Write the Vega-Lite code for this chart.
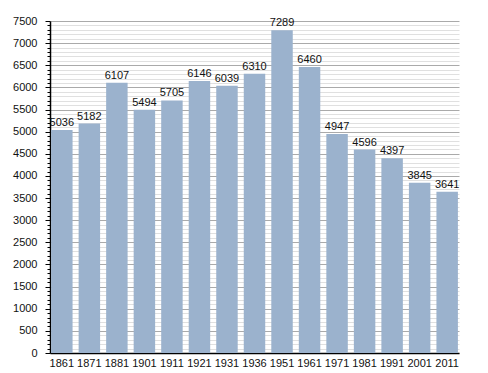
{
  "$schema": "https://vega.github.io/schema/vega-lite/v6.json",
  "width": 409,
  "height": 332,
  "autosize": "none",
  "padding": {"left": 50, "top": 21, "right": 29, "bottom": 20},
  "background": "white",
  "config": {"view": {"stroke": null}, "font": "Liberation Sans"},
  "data": {"values": [
    {"year": "1861", "pop": 5036},
    {"year": "1871", "pop": 5182},
    {"year": "1881", "pop": 6107},
    {"year": "1901", "pop": 5494},
    {"year": "1911", "pop": 5705},
    {"year": "1921", "pop": 6146},
    {"year": "1931", "pop": 6039},
    {"year": "1936", "pop": 6310},
    {"year": "1951", "pop": 7289},
    {"year": "1961", "pop": 6460},
    {"year": "1971", "pop": 4947},
    {"year": "1981", "pop": 4596},
    {"year": "1991", "pop": 4397},
    {"year": "2001", "pop": 3845},
    {"year": "2011", "pop": 3641}
  ]},
  "encoding": {
    "x": {"field": "year", "type": "ordinal", "sort": null,
      "scale": {"paddingInner": 0.22, "paddingOuter": 0.04},
      "axis": {"title": null, "labelAngle": 0, "ticks": false, "domainColor": "#000", "domainWidth": 1.5,
        "labelFontSize": 11, "labelColor": "#111", "labelPadding": 4, "grid": false}},
    "y": {"field": "pop", "type": "quantitative",
      "scale": {"domain": [0, 7500], "nice": false},
      "axis": {"title": null,
        "values": [0,100,200,300,400,500,600,700,800,900,1000,1100,1200,1300,1400,1500,1600,1700,1800,1900,2000,2100,2200,2300,2400,2500,2600,2700,2800,2900,3000,3100,3200,3300,3400,3500,3600,3700,3800,3900,4000,4100,4200,4300,4400,4500,4600,4700,4800,4900,5000,5100,5200,5300,5400,5500,5600,5700,5800,5900,6000,6100,6200,6300,6400,6500,6600,6700,6800,6900,7000,7100,7200,7300,7400,7500],
        "labelExpr": "datum.value % 500 === 0 ? datum.label : ''",
        "format": "d",
        "grid": true,
        "gridColor": {"condition": {"test": "datum.value % 500 === 0", "value": "#aaaaaa"}, "value": "#e0e0e0"},
        "gridWidth": 1,
        "tickSize": {"condition": {"test": "datum.value % 500 === 0", "value": 5}, "value": 3},
        "tickColor": "#000",
        "domainColor": "#000",
        "domainWidth": 1.5,
        "labelFontSize": 11,
        "labelColor": "#111",
        "labelPadding": 8,
        "labelBound": false,
        "labelOverlap": false,
        "labelFlush": false}}
  },
  "layer": [
    {"mark": {"type": "bar", "color": "#9bb2cd"}},
    {"mark": {"type": "text", "baseline": "bottom", "dy": -2, "fontSize": 11, "color": "#111"},
     "encoding": {"text": {"field": "pop", "type": "quantitative", "format": "d"}}}
  ]
}
